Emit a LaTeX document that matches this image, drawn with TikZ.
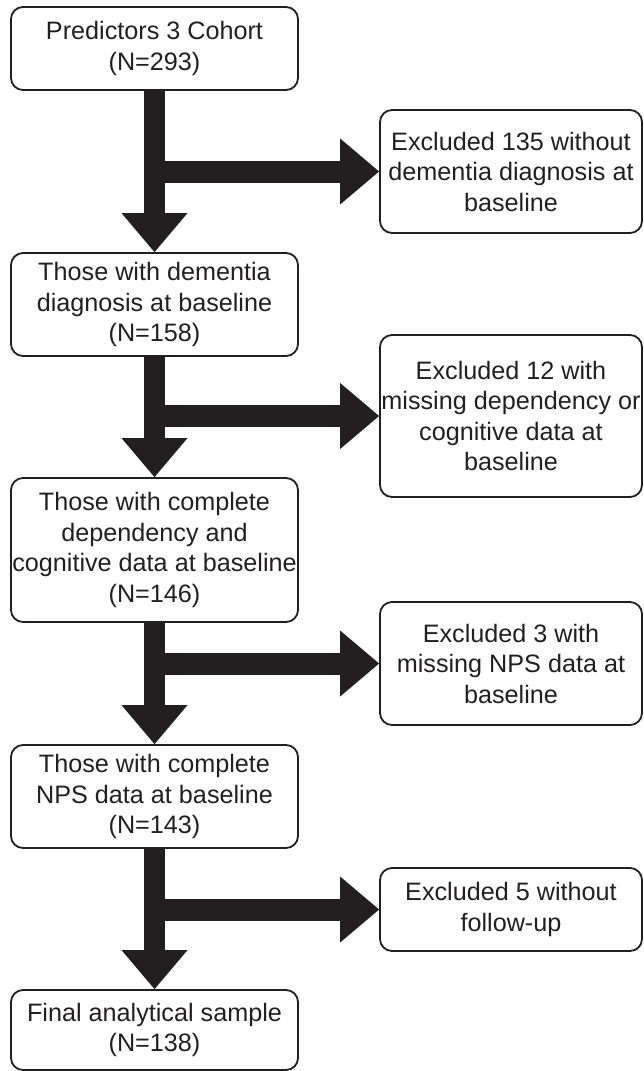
\documentclass[tikz,border=0pt]{standalone}
\usepackage{fontspec}
\setmainfont{Liberation Sans}
\usepackage{tikz}
\usetikzlibrary{arrows.meta,positioning}
\definecolor{ink}{HTML}{231F20}

\begin{document}
\begin{tikzpicture}[
    x=1pt, y=-1pt,
    font=\fontsize{25.2}{30.5}\selectfont,
    mainbox/.style={draw=ink, text=ink, rounded corners=12pt, minimum width=287pt, align=center, line width=1.8pt, inner sep=0pt},
    exclbox/.style={draw=ink, text=ink, rounded corners=12pt, minimum width=262pt, align=center, line width=1.8pt, inner sep=0pt},
    bigarrow/.style={-{Triangle[length=39pt 0 0, width=66pt 0 0, line width=0pt]}, draw=ink, line width=21pt}
]
\useasboundingbox (0,0) rectangle (644,1071);

% Cohort flow, left column
\node[mainbox, minimum height=83pt] (s1) at (154.5,48.5) {Predictors 3 Cohort\\(N=293)};
\node[mainbox, minimum height=103pt] (s2) at (154.5,304.5) {Those with dementia\\diagnosis at baseline\\(N=158)};
\node[mainbox, minimum height=144pt] (s3) at (154.5,550) {Those with complete\\dependency and\\cognitive data at baseline\\(N=146)};
\node[mainbox, minimum height=103pt] (s4) at (154.5,796.5) {Those with complete\\NPS data at baseline\\(N=143)};
\node[mainbox, minimum height=80pt] (s5) at (154.5,1030) {Final analytical sample\\(N=138)};

% Exclusions, right column
\node[exclbox, minimum height=123pt] (x1) at (511,171.5) {Excluded 135 without\\dementia diagnosis at\\baseline};
\node[exclbox, minimum height=162pt] (x2) at (511,416) {Excluded 12 with\\missing dependency or\\cognitive data at\\baseline};
\node[exclbox, minimum height=123pt] (x3) at (511,663.5) {Excluded 3 with\\missing NPS data at\\baseline};
\node[exclbox, minimum height=83pt] (x4) at (511,909.5) {Excluded 5 without\\follow-up};

\draw[bigarrow] (s1.south) -- (s2.north);
\draw[bigarrow] (s2.south) -- (s3.north);
\draw[bigarrow] (s3.south) -- (s4.north);
\draw[bigarrow] (s4.south) -- (s5.north);

\draw[bigarrow, line width=22pt] (s1.south |- x1.west) -- (x1.west);
\draw[bigarrow, line width=22pt] (s2.south |- x2.west) -- (x2.west);
\draw[bigarrow, line width=22pt] (s3.south |- x3.west) -- (x3.west);
\draw[bigarrow, line width=22pt] (s4.south |- x4.west) -- (x4.west);

\end{tikzpicture}
\end{document}
